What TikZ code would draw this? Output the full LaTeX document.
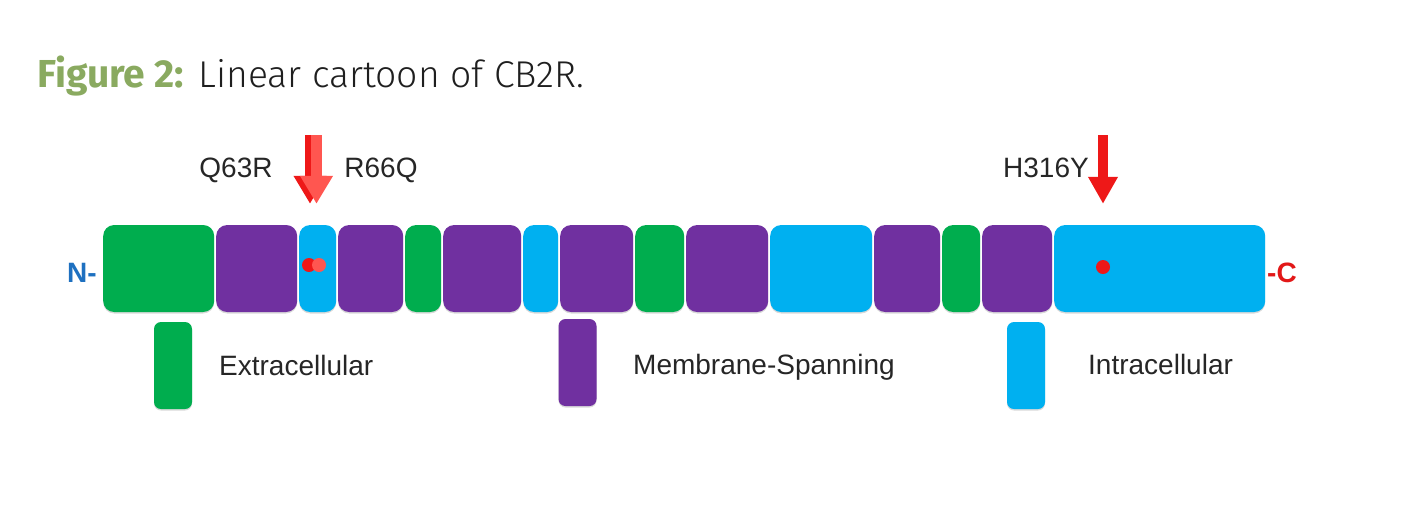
\documentclass[tikz,border=0pt]{standalone}
\usepackage{fontspec}
\setmainfont{Liberation Sans}
\newfontfamily\titlefont{Fira Sans}
\newfontfamily\titlelight{Fira Sans}[UprightFont={* Light}]
\usetikzlibrary{arrows.meta,shadows}

\definecolor{exgreen}{RGB}{0,173,78}
\definecolor{tmpurple}{RGB}{112,48,160}
\definecolor{incyan}{RGB}{0,176,240}
\definecolor{mutred}{RGB}{238,24,24}
\definecolor{mutpink}{RGB}{255,86,80}
\definecolor{figgreen}{RGB}{138,170,96}
\definecolor{nblue}{RGB}{30,112,192}
\definecolor{cred}{RGB}{226,24,24}

\tikzset{
  seg/.style={rounded corners=11pt, minimum height=87pt, inner sep=0pt, anchor=west,
    drop shadow={shadow xshift=0pt, shadow yshift=-1.5pt, opacity=0.3}},
  legbox/.style={rounded corners=7pt, minimum width=38pt, minimum height=87pt, inner sep=0pt,
    drop shadow={shadow xshift=0pt, shadow yshift=-1.5pt, opacity=0.3}},
  lbl/.style={font=\fontsize{28}{30}\selectfont, text=black!85, inner sep=0pt},
  endlbl/.style={font=\fontsize{28}{30}\selectfont\bfseries, inner sep=0pt},
  mutarrow/.style={line width=11pt, -{Triangle[width=31pt,length=28pt]}},
  mutdot/.style={circle, minimum size=14pt, inner sep=0pt}
}

\begin{document}
\begin{tikzpicture}[x=1pt,y=-1pt]
\useasboundingbox (0,0) rectangle (1410,515);

% title
\node[anchor=base west, inner sep=0pt, font=\fontsize{39}{43}\selectfont] (title) at (37,87)
  {\textcolor{figgreen}{\titlefont\bfseries Figure 2:} \textcolor{black!88}{\titlelight\fontsize{37.3}{41}\selectfont Linear cartoon of CB2R.}};

% the receptor, N to C
\foreach \i/\xa/\xb/\col in {1/103/214/exgreen, 2/216/297/tmpurple, 3/299/336/incyan,
    4/338/403/tmpurple, 5/405/441/exgreen, 6/443/521/tmpurple, 7/523/558/incyan,
    8/560/633/tmpurple, 9/635/684/exgreen, 10/686/768/tmpurple, 11/770/872/incyan,
    12/874/940/tmpurple, 13/942/980/exgreen, 14/982/1052/tmpurple, 15/1054/1265/incyan}
  \node[seg, fill=\col, minimum width={(\xb-\xa)*1pt}] (seg\i) at (\xa,268.5) {};

\node[endlbl, text=nblue] (nterm) at (82,273) {N-};
\node[endlbl, text=cred] (cterm) at (1282,273) {-C};

% mutation sites
\node[mutdot, fill=mutred] (dotq) at (309,265) {};
\node[mutdot, fill=mutpink] (dotr) at (319,265) {};
\node[mutdot, fill=mutred] (doth) at (1103,267) {};

\coordinate (qtop) at (310,135);
\coordinate (rtop) at (316.5,135);
\coordinate (htop) at (1103,135);
\draw[mutarrow, draw=mutred, fill=mutred] (qtop) -- (qtop |- seg3.north) [shorten >=21pt];
\draw[mutarrow, draw=mutpink, fill=mutpink] (rtop) -- (rtop |- seg3.north) [shorten >=21pt];
\draw[mutarrow, draw=mutred, fill=mutred, line width=10pt, -{Triangle[width=28pt,length=27pt]}]
  (htop) -- (htop |- seg15.north) [shorten >=21pt];

\node[lbl, anchor=base] (q63r) at (236,177) {Q63R};
\node[lbl, anchor=base] (r66q) at (381,177) {R66Q};
\node[lbl, anchor=base] (h316y) at (1046,177) {H316Y};

% legend
\node[legbox, fill=exgreen] (legex) at (173,365.5) {};
\node[legbox, fill=tmpurple] (legtm) at (577.5,362.5) {};
\node[legbox, fill=incyan] (legin) at (1026,365.5) {};
\node[lbl, anchor=base west] (txtex) at (219,375) {Extracellular};
\node[lbl, anchor=base west] (txttm) at (633,374) {Membrane-Spanning};
\node[lbl, anchor=base west] (txtin) at (1088,374) {Intracellular};
\end{tikzpicture}
\end{document}
